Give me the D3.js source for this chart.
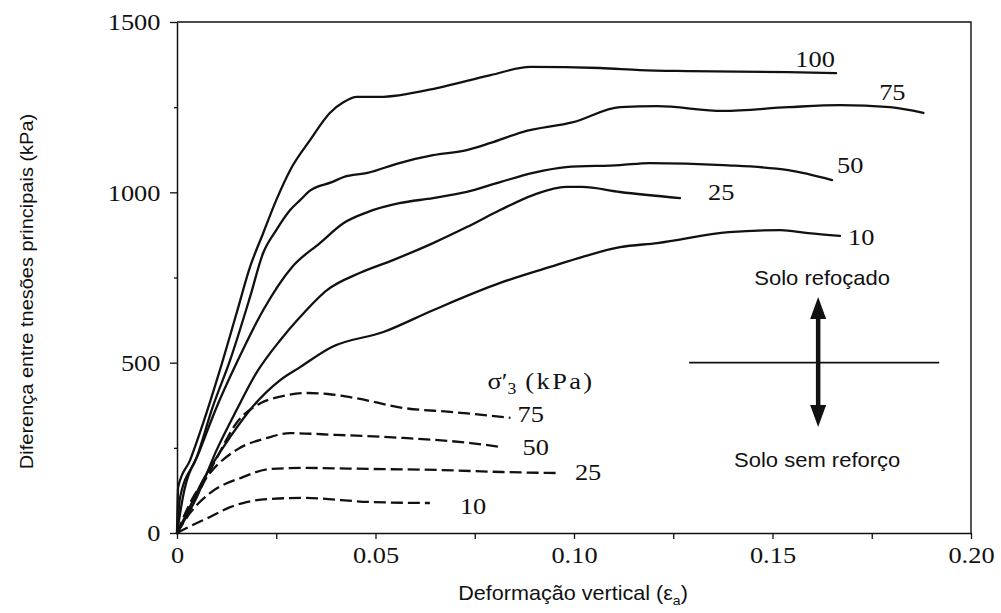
<!DOCTYPE html>
<html><head><meta charset="utf-8">
<script src="https://cdn.jsdelivr.net/npm/d3@7/dist/d3.min.js"></script>
<style>body{margin:0;background:#fff}svg{display:block}</style>
</head><body><svg id="c" width="1001" height="613"></svg>
<script>
// ---------- DATA ----------
const xTickValues = [0, 0.025, 0.05, 0.075, 0.10, 0.125, 0.15, 0.175, 0.20];
const xTickLabels = ["0", "", "0.05", "", "0.10", "", "0.15", "", "0.20"];
const yTickValues = [0, 250, 500, 750, 1000, 1250, 1500];
const yTickLabels = ["0", "", "500", "", "1000", "", "1500"];

// Reinforced soil (solid), confining pressure sigma'3 in kPa: [strain, deviator stress kPa]
const reinforcedPressures = ["100", "75", "50", "25", "10"];
const reinforced100 = [[0,0],[0.0003,135],[0.0033,214],[0.0066,323],[0.0108,478],[0.015,645],[0.0184,781],[0.0217,880],[0.025,977],[0.0285,1065],[0.0335,1153],[0.0385,1233],[0.042,1265],[0.0453,1280],[0.051,1280],[0.0655,1306],[0.079,1344],[0.089,1368],[0.1065,1365],[0.1166,1359],[0.129,1356],[0.154,1353],[0.166,1350]];
const reinforced75 = [[0,0],[0.0008,106],[0.005,223],[0.009,370],[0.0134,508],[0.0184,693],[0.0217,822],[0.025,889],[0.0285,948],[0.031,977],[0.0335,1005],[0.039,1030],[0.042,1045],[0.048,1057],[0.056,1086],[0.0645,1109],[0.073,1124],[0.079,1145],[0.087,1177],[0.0998,1206],[0.1116,1250],[0.121,1253],[0.1375,1239],[0.154,1250],[0.167,1256],[0.1796,1250],[0.188,1233]];
const reinforced50 = [[0,0],[0.0015,106],[0.0058,244],[0.010,370],[0.015,499],[0.0217,654],[0.029,781],[0.036,851],[0.042,910],[0.048,942],[0.056,968],[0.0645,983],[0.073,1001],[0.0814,1030],[0.0897,1057],[0.098,1074],[0.1116,1080],[0.119,1086],[0.1375,1080],[0.154,1065],[0.165,1036]];
const reinforced25 = [[0,0],[0.005,106],[0.010,244],[0.015,361],[0.020,470],[0.026,566],[0.031,634],[0.0378,713],[0.046,763],[0.0544,801],[0.0645,851],[0.073,898],[0.0814,948],[0.0897,992],[0.098,1016],[0.102,1016],[0.1116,1001],[0.1267,983]];
const reinforced10 = [[0,0],[0.0025,59],[0.0066,156],[0.0134,282],[0.019,370],[0.026,449],[0.031,487],[0.039,546],[0.052,590],[0.0645,654],[0.0814,734],[0.094,781],[0.102,810],[0.1116,839],[0.121,851],[0.139,883],[0.152,889],[0.159,880],[0.167,872]];

// Unreinforced soil (dashed)
const unreinforcedPressures = ["75", "50", "25", "10"];
const unreinforced75 = [[0,0],[0.005,110],[0.010,220],[0.015,323],[0.021,381],[0.026,400],[0.033,411],[0.038,408],[0.045,396],[0.057,367],[0.0695,355],[0.084,338]];
const unreinforced50 = [[0,0],[0.0033,88],[0.0083,176],[0.015,244],[0.0227,279],[0.0285,293],[0.040,288],[0.057,279],[0.074,264],[0.082,252]];
const unreinforced25 = [[0,0],[0.0033,59],[0.0083,117],[0.0166,164],[0.0234,188],[0.0318,191],[0.0486,188],[0.0655,185],[0.082,179],[0.0957,176]];
const unreinforced10 = [[0,0],[0.003,18],[0.0083,47],[0.0134,76],[0.0166,88],[0.0234,100],[0.0318,103],[0.0486,91],[0.0637,88]];

// Annotation (data units)
const dividerStrain = [0.129, 0.192];
const dividerStress = 500;
const arrowStrain = 0.1615;
const arrowStress = [311, 693];
const annotationTexts = ["Solo refoçado", "Solo sem reforço"];
const xTitle = "Deformação vertical (";
const yTitle = "Diferença entre tnesões principais (kPa)";

// ---------- STYLE / LAYOUT ----------
const W = 1001, H = 613;
const margin = {left: 177, right: 30, top: 22, bottom: 80};
const serif = "'Liberation Serif','Times New Roman',serif";
const sans = "'Liberation Sans',Arial,Helvetica,sans-serif";
const ink = "#111";
const reinforcedLabelOffsets = {
  "100": {dx: -21, dy: -6, anchor: "middle"},
  "75":  {dx: -31, dy: -13, anchor: "middle"},
  "50":  {dx: 5, dy: -7, anchor: "start"},
  "25":  {dx: 28, dy: 2, anchor: "start"},
  "10":  {dx: 8, dy: 9, anchor: "start"}
};
const unreinforcedLabelOffsets = {
  "75": {dx: 7, dy: 4}, "50": {dx: 20, dy: 8}, "25": {dx: 18, dy: 7}, "10": {dx: 30, dy: 11}
};

const svg = d3.select("#c");
const x = d3.scaleLinear().domain([0, 0.20]).range([margin.left, W - margin.right]);
const y = d3.scaleLinear().domain([0, 1500]).range([H - margin.bottom, margin.top]);

// frame (top and right)
svg.append("path")
  .attr("d", `M${x(0)},${y(1500)}H${x(0.2)}V${y(0)}`)
  .attr("fill", "none").attr("stroke", ink).attr("stroke-width", 1.4);

// axes
const xAxis = d3.axisBottom(x).tickValues(xTickValues)
  .tickFormat((d, i) => xTickLabels[i]).tickSize(6).tickSizeOuter(0);
const gx = svg.append("g").attr("transform", `translate(0,${y(0)})`).call(xAxis);
const yAxis = d3.axisLeft(y).tickValues(yTickValues)
  .tickFormat((d, i) => yTickLabels[i]).tickSize(7).tickSizeOuter(0);
const gy = svg.append("g").attr("transform", `translate(${x(0)},0)`).call(yAxis);

[gx, gy].forEach(g => {
  g.select(".domain").attr("stroke", ink).attr("stroke-width", 1.5);
  g.selectAll(".tick line").attr("stroke", ink).attr("stroke-width", 1.3);
  g.selectAll(".tick text").attr("font-family", serif).attr("font-size", 24).attr("fill", ink);
});
gx.selectAll(".tick text").attr("y", 13).attr("dy", "0.71em")
  .attr("transform", "scale(1.1,1)");
gy.selectAll(".tick text").attr("x", -15).attr("dy", "0.32em")
  .attr("transform", "scale(1.1,1)");
gy.selectAll(".tick").filter((d, i) => yTickLabels[i] === "").select("line").attr("x2", -3);

// lines
const line = d3.line().x(d => x(d[0])).y(d => y(d[1])).curve(d3.curveMonotoneX);
const reinforcedSeries = [reinforced100, reinforced75, reinforced50, reinforced25, reinforced10];
const unreinforcedSeries = [unreinforced75, unreinforced50, unreinforced25, unreinforced10];

svg.append("g").selectAll("path").data(reinforcedSeries).join("path")
  .attr("d", line).attr("fill", "none").attr("stroke", ink)
  .attr("stroke-width", 2.3).attr("stroke-linejoin", "round").attr("stroke-linecap", "round");

svg.append("g").selectAll("path").data(unreinforcedSeries).join("path")
  .attr("d", line).attr("fill", "none").attr("stroke", ink)
  .attr("stroke-width", 2.3).attr("stroke-dasharray", "12,5");

// helper for horizontally stretched text
function stext(parent, px, py, str, font, size, anchor, sx) {
  return parent.append("text")
    .attr("transform", `translate(${px},${py}) scale(${sx},1)`)
    .attr("font-family", font).attr("font-size", size)
    .attr("text-anchor", anchor).attr("fill", ink).text(str);
}

// curve labels
reinforcedSeries.forEach((s, i) => {
  const p = reinforcedPressures[i], o = reinforcedLabelOffsets[p], e = s[s.length - 1];
  stext(svg, x(e[0]) + o.dx, y(e[1]) + o.dy, p, serif, 24, o.anchor, 1.1);
});
unreinforcedSeries.forEach((s, i) => {
  const p = unreinforcedPressures[i], o = unreinforcedLabelOffsets[p], e = s[s.length - 1];
  stext(svg, x(e[0]) + o.dx, y(e[1]) + o.dy, p, serif, 24, "start", 1.1);
});

// sigma'3 header
const e75 = unreinforced75[unreinforced75.length - 1];
const hdr = svg.append("text")
  .attr("transform", `translate(${x(e75[0]) - 23},${y(e75[1]) - 29}) scale(1.1,1)`)
  .attr("font-family", serif).attr("font-size", 24).attr("fill", ink);
hdr.append("tspan").text("σ′");
hdr.append("tspan").attr("font-size", 16).attr("dy", 5).text("3");
hdr.append("tspan").attr("dy", -5).attr("letter-spacing", 2.2).text(" (kPa)");

// divider + double arrow
svg.append("line")
  .attr("x1", x(dividerStrain[0])).attr("x2", x(dividerStrain[1]))
  .attr("y1", y(dividerStress)).attr("y2", y(dividerStress))
  .attr("stroke", ink).attr("stroke-width", 1.8);
const ax = x(arrowStrain), aTop = y(arrowStress[1]), aBot = y(arrowStress[0]);
const headLen = 22, headHalf = 8;
svg.append("line").attr("x1", ax).attr("x2", ax)
  .attr("y1", aTop + headLen - 2).attr("y2", aBot - headLen + 2)
  .attr("stroke", ink).attr("stroke-width", 4.5);
svg.append("path")
  .attr("d", `M${ax},${aTop}L${ax + headHalf},${aTop + headLen}L${ax - headHalf},${aTop + headLen}Z`)
  .attr("fill", ink);
svg.append("path")
  .attr("d", `M${ax},${aBot}L${ax + headHalf},${aBot - headLen}L${ax - headHalf},${aBot - headLen}Z`)
  .attr("fill", ink);

stext(svg, ax + 4, aTop - 12, annotationTexts[0], sans, 20, "middle", 1.1);
stext(svg, ax - 1, aBot + 40, annotationTexts[1], sans, 20, "middle", 1.1);

// axis titles
const xt = svg.append("text")
  .attr("transform", `translate(${(x(0) + x(0.2)) / 2 - 1},${H - 13}) scale(1.08,1)`)
  .attr("font-family", sans).attr("font-size", 20).attr("text-anchor", "middle").attr("fill", ink);
xt.append("tspan").text(xTitle + "ε");
xt.append("tspan").attr("font-size", 13).attr("dy", 5).text("a");
xt.append("tspan").attr("dy", -5).text(")");

svg.append("text")
  .attr("transform", `translate(33,${(y(0) + y(1500)) / 2 + 14}) rotate(-90) scale(1.08,1)`)
  .attr("font-family", sans).attr("font-size", 18.5).attr("text-anchor", "middle").attr("fill", ink)
  .text(yTitle);
</script></body></html>
